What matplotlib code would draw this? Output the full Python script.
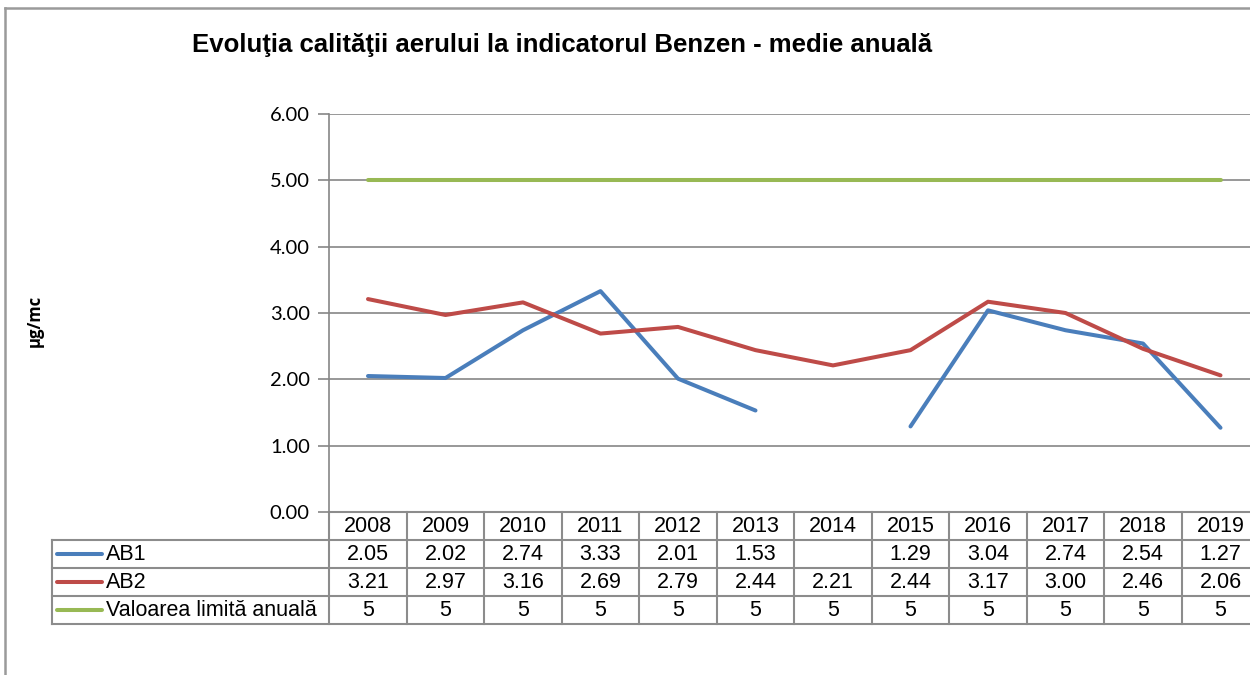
import matplotlib
matplotlib.use("Agg")
import matplotlib.pyplot as plt
import numpy as np
from matplotlib.lines import Line2D
from matplotlib.transforms import blended_transform_factory

years = ["2008", "2009", "2010", "2011", "2012", "2013", "2014",
         "2015", "2016", "2017", "2018", "2019"]
ab1 = [2.05, 2.02, 2.74, 3.33, 2.01, 1.53, None, 1.29, 3.04, 2.74, 2.54, 1.27]
ab2 = [3.21, 2.97, 3.16, 2.69, 2.79, 2.44, 2.21, 2.44, 3.17, 3.00, 2.46, 2.06]
limit = [5, 5, 5, 5, 5, 5, 5, 5, 5, 5, 5, 5]
series_names = ["AB1", "AB2", "Valoarea limită anuală"]
title = "Evoluţia calităţii aerului la indicatorul Benzen - medie anuală"
ylabel = "µg/mc"
yticks = [0, 1, 2, 3, 4, 5, 6]

colors = ["#4A7EBB", "#BE4B48", "#98B954"]
grid_c = "#868686"

W, H = 1250, 675
fig = plt.figure(figsize=(12.5, 6.75), dpi=100)
fig.patch.set_facecolor("white")

# plot area in pixels
left_px, right_px = 329.25, 1259.25
top_px, bot_px = 114, 512
ax = fig.add_axes([left_px / W, 1 - bot_px / H, (right_px - left_px) / W, (bot_px - top_px) / H])
ax.set_facecolor("white")

x = np.arange(len(years))
ab1_arr = np.array([np.nan if v is None else v for v in ab1], dtype=float)
ax.plot(x, ab1_arr, color=colors[0], lw=2.9, solid_capstyle="round", solid_joinstyle="round", zorder=3)
ax.plot(x, ab2, color=colors[1], lw=2.9, solid_capstyle="round", solid_joinstyle="round", zorder=3)
ax.plot(x, limit, color=colors[2], lw=2.9, solid_capstyle="round", zorder=3)

ax.set_xlim(-0.5, len(years) - 0.5)
ax.set_ylim(0, 6)
ax.set_yticks(yticks)
ax.set_yticklabels([f"{v:.2f}" for v in yticks], fontfamily="Lato", fontsize=14.5)
ax.set_xticks([])
for yv in yticks[1:]:
    ax.axhline(yv, color=grid_c, lw=1.2, zorder=1)
for s in ["top", "right", "bottom"]:
    ax.spines[s].set_visible(False)
ax.spines["left"].set_color(grid_c)
ax.spines["left"].set_linewidth(1.2)
ax.tick_params(axis="y", length=8, width=1.2, color=grid_c, pad=6)

# y label
fig.text(35 / W, 1 - 321 / H, ylabel, rotation=90, ha="center", va="center",
         fontfamily="Open Sans", fontweight="bold", fontsize=12)

# title
fig.text(192 / W, 1 - 45 / H, title, ha="left", va="center",
         fontfamily="Liberation Sans", fontweight="bold", fontsize=18.5)

# data table below axes
bt = blended_transform_factory(ax.transData, ax.transAxes)
row_h = 28 / (bot_px - top_px)
tbl_c = "#8C8C8C"
tfont = dict(fontfamily="Liberation Sans", fontsize=15.5)
n = len(years)
nrows = 4  # header + 3 series
lx = (52 - left_px) / (right_px - left_px)
# horizontal lines
for r in range(nrows + 1):
    yv = -r * row_h
    if r == 0:
        ax.add_line(Line2D([-0.5, n - 0.5], [yv, yv], transform=bt, color=tbl_c, lw=1.5, clip_on=False))
    else:
        ax.add_line(Line2D([lx, 1], [yv, yv], transform=ax.transAxes, color=tbl_c, lw=1.5, clip_on=False))
# vertical lines
for i in range(n + 1):
    ax.add_line(Line2D([i - 0.5, i - 0.5], [0, -nrows * row_h], transform=bt,
                       color=tbl_c, lw=1.5, clip_on=False))
ax.add_line(Line2D([lx, lx], [-row_h, -nrows * row_h], transform=ax.transAxes,
                   color=tbl_c, lw=1.5, clip_on=False))
# header
for i, yr in enumerate(years):
    ax.text(i, -0.5 * row_h, yr, transform=bt, ha="center", va="center", **tfont)
rows = [
    [("" if v is None else f"{v:.2f}") for v in ab1],
    [f"{v:.2f}" for v in ab2],
    [f"{v:d}" for v in limit],
]
for r, (name, vals) in enumerate(zip(series_names, rows)):
    yc = -(r + 1.5) * row_h
    for i, s in enumerate(vals):
        ax.text(i, yc, s, transform=bt, ha="center", va="center", **tfont)
    # legend key
    kx0 = (57 - left_px) / (right_px - left_px)
    kx1 = (102 - left_px) / (right_px - left_px)
    ax.add_line(Line2D([kx0, kx1], [yc, yc], transform=ax.transAxes, color=colors[r],
                       lw=2.9, solid_capstyle="round", clip_on=False))
    ax.text((106 - left_px) / (right_px - left_px), yc, name, transform=ax.transAxes,
            ha="left", va="center", **tfont)

# outer chart border (partially visible)
fig.add_artist(Line2D([5 / W, 5 / W], [0, 1 - 8 / H], transform=fig.transFigure, color="#9A9A9A", lw=1.8))
fig.add_artist(Line2D([5 / W, 1], [1 - 8 / H, 1 - 8 / H], transform=fig.transFigure, color="#9A9A9A", lw=1.8))

fig.savefig("out.png", dpi=100)
